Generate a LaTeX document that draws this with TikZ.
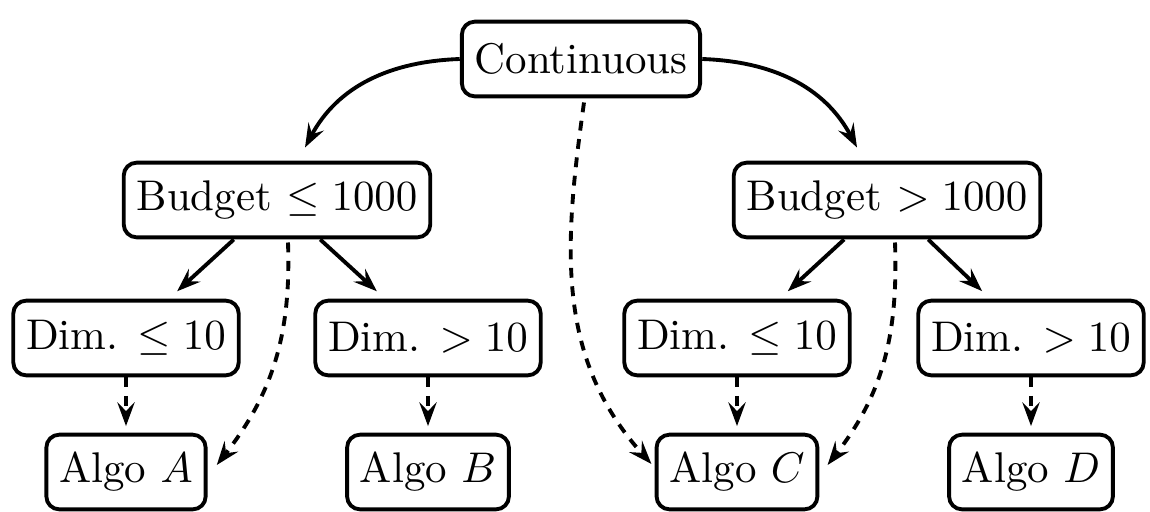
\documentclass[tikz,border=0pt]{standalone}
\usetikzlibrary{arrows.meta,calc}
\begin{document}
\begin{tikzpicture}[x=0.233pt,y=-0.233pt,
  box/.style={draw, line width=0.9pt, rounded corners=3pt, minimum height=17.4pt,
    inner xsep=3pt, inner ysep=0pt, outer sep=0.5pt},
  conn/.style={line width=0.9pt, -{Stealth[length=5.5pt,width=4pt,inset=2pt]}},
  dsh/.style={conn, dash pattern=on 2.3pt off 2pt}]
\useasboundingbox (0,0) rectangle (1150,511);
% nodes
\node[box] (c)  at (581,59)  {Continuous};
\node[box] (b1) at (277,200) {Budget $\leq 1000$};
\node[box] (b2) at (887,200) {Budget $> 1000$};
\node[box] (d1) at (126,338) {Dim. $\leq 10$};
\node[box] (d2) at (428,338) {Dim. $> 10$};
\node[box] (d3) at (737,338) {Dim. $\leq 10$};
\node[box] (d4) at (1031,338) {Dim. $> 10$};
\node[box] (a1) at (126,472) {Algo $A$};
\node[box] (a2) at (428,472) {Algo $B$};
\node[box] (a3) at (737,472) {Algo $C$};
\node[box] (a4) at (1031,472) {Algo $D$};
% top curves
\draw[conn] (c.west) to[out=182,in=62] ($(b1.north)+(28,-13)$);
\draw[conn] (c.east) to[out=-2,in=118] ($(b2.north)+(-30,-13)$);
\draw[dsh] ($(c.south)+(3,4)$) to[out=262,in=132] ($(a3.west)+(-3,-8)$);
% budget to dim
\draw[conn, shorten >=2.5pt] (b1) -- (d1);
\draw[conn, shorten >=2.5pt] (b1) -- (d2);
\draw[conn, shorten >=2.5pt] (b2) -- (d3);
\draw[conn, shorten >=2.5pt] (b2) -- (d4);
% budget dashed to algo
\draw[dsh] ($(b1.south)+(11,3)$) to[out=-88,in=52] ($(a1.east)+(9,-7)$);
\draw[dsh] ($(b2.south)+(8,3)$) to[out=-88,in=52] ($(a3.east)+(8,-7)$);
% dim to algo
\draw[dsh, shorten >=1.5pt] (d1.south) -- (a1.north);
\draw[dsh, shorten >=1.5pt] (d2.south) -- (a2.north);
\draw[dsh, shorten >=1.5pt] (d3.south) -- (a3.north);
\draw[dsh, shorten >=1.5pt] (d4.south) -- (a4.north);
\end{tikzpicture}
\end{document}
